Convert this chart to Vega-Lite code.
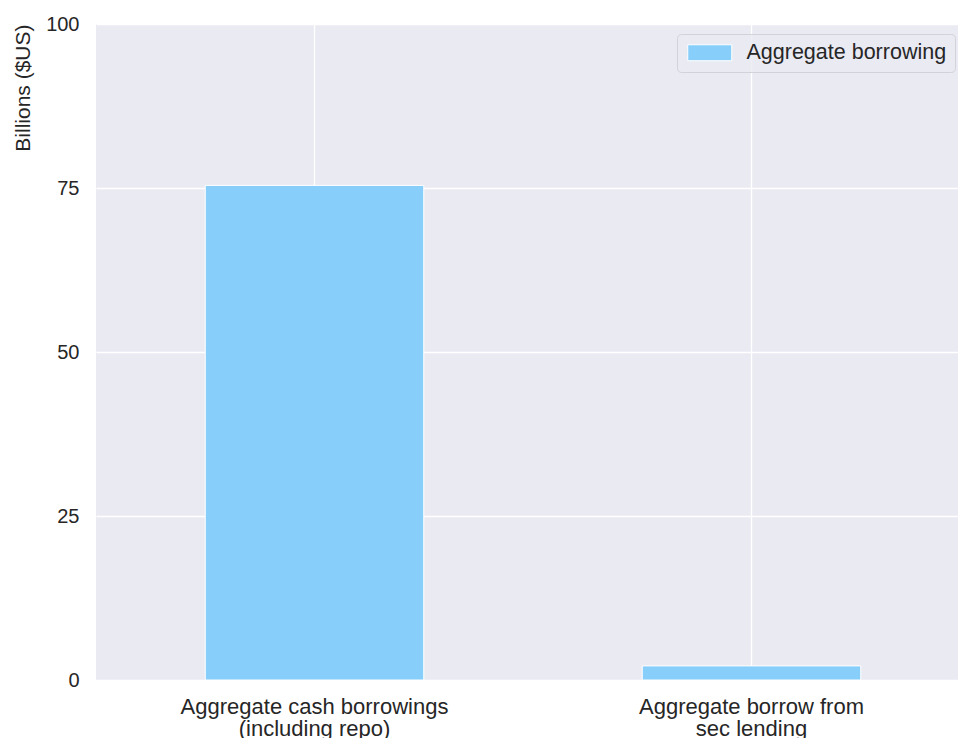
{
  "$schema": "https://vega.github.io/schema/vega-lite/v6.json",
  "width": 862,
  "height": 656,
  "autosize": {"type": "none"},
  "padding": {"left": 96, "top": 24, "right": 0, "bottom": 58},
  "background": "white",
  "config": {
    "view": {"fill": "#EAEAF2", "stroke": null},
    "font": "Liberation Sans",
    "axis": {
      "domain": false,
      "ticks": false,
      "tickSize": 0,
      "gridColor": "white",
      "gridWidth": 1.3,
      "labelColor": "#262626",
      "titleColor": "#262626",
      "labelFont": "Liberation Sans",
      "titleFont": "Liberation Sans",
      "titleFontWeight": "normal"
    }
  },
  "data": {
    "values": [
      {"category": "Aggregate cash borrowings\n(including repo)", "value": 75.4, "series": "Aggregate borrowing"},
      {"category": "Aggregate borrow from\nsec lending", "value": 2.15, "series": "Aggregate borrowing"}
    ]
  },
  "mark": {"type": "bar", "stroke": "white", "strokeWidth": 1},
  "encoding": {
    "x": {
      "field": "category",
      "type": "nominal",
      "sort": null,
      "scale": {"range": [0, 874], "paddingInner": 0.5, "paddingOuter": 0.25},
      "axis": {
        "title": null,
        "labelAngle": 0,
        "labelFontSize": 22,
        "labelLineHeight": 22,
        "labelPadding": 16,
        "labelLimit": 0,
        "labelOverlap": false,
        "labelBound": false,
        "labelAlign": "center",
        "labelBaseline": "top",
        "labelExpr": "split(datum.label, '\\n')",
        "grid": true,
        "bandPosition": 0.5
      }
    },
    "y": {
      "field": "value",
      "type": "quantitative",
      "scale": {"domain": [0, 100], "nice": false},
      "axis": {
        "title": "Billions ($US)",
        "values": [0, 25, 50, 75, 100],
        "labelFontSize": 20,
        "labelPadding": 17,
        "titleFontSize": 21,
        "titleAngle": -90,
        "titleAlign": "right",
        "titleBaseline": "middle",
        "titleX": -73,
        "titleY": 0,
        "grid": true
      }
    },
    "color": {
      "field": "series",
      "type": "nominal",
      "scale": {"range": ["#87CEFA"]},
      "legend": {
        "title": null,
        "orient": "none",
        "legendX": 581,
        "legendY": 10,
        "symbolType": "M-1,-1H4.5V1H-1Z",
        "symbolSize": 256,
        "symbolStrokeColor": "white",
        "symbolStrokeWidth": 1,
        "symbolOpacity": 1,
        "labelFontSize": 21.5,
        "labelColor": "#262626",
        "labelOffset": 40,
        "labelLimit": 0,
        "padding": 8,
        "fillColor": "rgba(234,234,242,0.8)",
        "strokeColor": "#D2D2D8",
        "cornerRadius": 4
      }
    }
  }
}
